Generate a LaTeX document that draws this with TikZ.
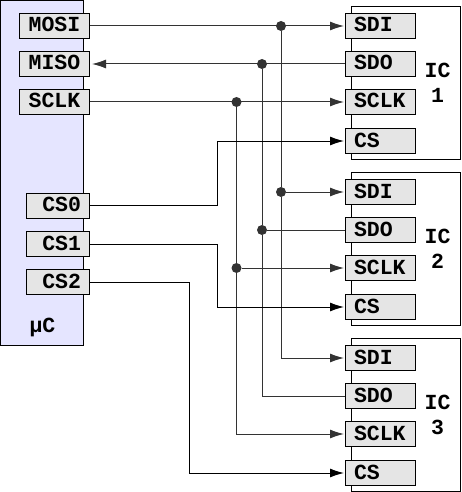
\documentclass[tikz,border=0pt]{standalone}
\usepackage{fontspec}
\setmonofont{Liberation Mono}
\usepackage{tikz}
\usetikzlibrary{arrows.meta,positioning,calc}

\begin{document}
\begin{tikzpicture}[
    x=1pt, y=-1pt,
    >={Latex[length=14pt,width=9pt]},
    pin/.style={draw, line width=1pt, fill=black!10, minimum height=25pt, inner xsep=0pt, inner ysep=0pt, text height=14.5pt, text depth=2.5pt, font=\fontsize{21.5}{24}\ttfamily\bfseries},
    pinl/.style={pin, minimum width=70pt, text width=53pt, align=center},
    pinc/.style={pin, minimum width=63pt, text width=46pt, align=right},
    pinr/.style={pin, minimum width=70pt, text width=53pt, align=left},
    chip/.style={draw, line width=1pt, fill=white, minimum width=109pt, minimum height=153pt},
    wire/.style={line width=1pt, black!80},
    cswire/.style={line width=1pt, black},
    jun/.style={circle, fill=black!80, inner sep=0pt, minimum size=10pt},
    lab/.style={font=\fontsize{21.5}{25}\ttfamily\bfseries, align=center}
]
\useasboundingbox (0,0) rectangle (461,492);

% Controller
\node[draw, line width=1pt, fill=blue!10, minimum width=83pt, minimum height=345pt, anchor=north west] (uc) at (0,0) {};
\node[lab] (uc_name) at (42.5,327) {µC};
\node[pinl] (mosi) at (54.5,26) {MOSI};
\node[pinl] (miso) at (54.5,64) {MISO};
\node[pinl] (sclk) at (54.5,102) {SCLK};
\node[pinc] (cs_0) at (58,205.5) {CS0};
\node[pinc] (cs_1) at (58,244) {CS1};
\node[pinc] (cs_2) at (58,282) {CS2};

% IC 1
\node[chip] (ic_a) at (406,83) {};
\node[lab] (name_a) at (437.5,83) {IC\\1};
\node[pinr] (sdi_a) at (380.5,26) {SDI};
\node[pinr] (sdo_a) at (380.5,64) {SDO};
\node[pinr] (clk_a) at (380.5,102) {SCLK};
\node[pinr] (cs_a) at (380.5,141) {CS};

% IC 2
\node[chip] (ic_b) at (406,249) {};
\node[lab] (name_b) at (437.5,249) {IC\\2};
\node[pinr] (sdi_b) at (380.5,192) {SDI};
\node[pinr] (sdo_b) at (380.5,230) {SDO};
\node[pinr] (clk_b) at (380.5,268) {SCLK};
\node[pinr] (cs_b) at (380.5,307) {CS};

% IC 3
\node[chip] (ic_c) at (406,415) {};
\node[lab] (name_c) at (437.5,415) {IC\\3};
\node[pinr] (sdi_c) at (380.5,358) {SDI};
\node[pinr] (sdo_c) at (380.5,396) {SDO};
\node[pinr] (clk_c) at (380.5,434) {SCLK};
\node[pinr] (cs_c) at (380.5,473) {CS};

% Junctions
\node[jun] (j_sdi_a) at (281,26) {};
\node[jun] (j_sdo_a) at (262,64) {};
\node[jun] (j_clk_a) at (236.5,102) {};
\node[jun] (j_sdi_b) at (281,192) {};
\node[jun] (j_sdo_b) at (262,230) {};
\node[jun] (j_clk_b) at (236.5,268) {};

% Bus lines
\draw[wire, ->, shorten >=1pt] (mosi.east) -- (sdi_a.west);
\draw[wire, <-, shorten <=2pt] (miso.east) -- (sdo_a.west);
\draw[wire, ->, shorten >=1pt] (sclk.east) -- (clk_a.west);
\draw[wire] (j_sdi_a) -- (j_sdi_b);
\draw[wire] (j_sdo_a) -- (j_sdo_b);
\draw[wire] (j_clk_a) -- (j_clk_b);
\draw[wire, ->, shorten >=1pt] (j_sdi_b) -- (sdi_b.west);
\draw[wire] (j_sdo_b) -- (sdo_b.west);
\draw[wire, ->, shorten >=1pt] (j_clk_b) -- (clk_b.west);
\draw[wire, ->, shorten >=1pt] (j_sdi_b) |- (sdi_c.west);
\draw[wire] (j_sdo_b) |- (sdo_c.west);
\draw[wire, ->, shorten >=1pt] (j_clk_b) |- (clk_c.west);

% Chip selects
\coordinate (bend_a) at (217.5,0);
\coordinate (bend_c) at (189.5,0);
\draw[cswire, ->, shorten >=1pt] (cs_0.east) -- (cs_0.east -| bend_a) |- (cs_a.west);
\draw[cswire, ->, shorten >=1pt] (cs_1.east) -- (cs_1.east -| bend_a) |- (cs_b.west);
\draw[cswire, ->, shorten >=1pt] (cs_2.east) -- (cs_2.east -| bend_c) |- (cs_c.west);
\end{tikzpicture}
\end{document}
